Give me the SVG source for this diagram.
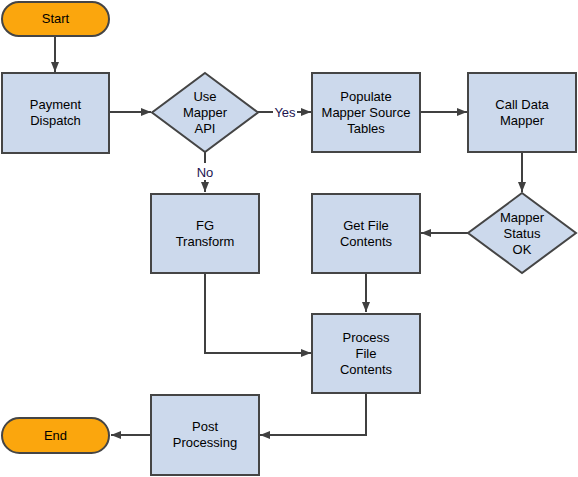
<svg xmlns="http://www.w3.org/2000/svg" width="578" height="477" viewBox="0 0 578 477">
<style>
.box{fill:#CCD9EC;stroke:#454545;stroke-width:2}
.term{fill:#FBA60D;stroke:#454545;stroke-width:2}
.t{font-family:"Liberation Sans",Arial,sans-serif;font-size:13px;fill:#000;text-anchor:middle}
.lbl{font-family:"Liberation Sans",Arial,sans-serif;font-size:13px;fill:#1C1450;text-anchor:middle}
.c{fill:none;stroke:#404040;stroke-width:2}
</style>
<defs>
<marker id="ah" viewBox="0 0 10 8" refX="10" refY="4" markerWidth="10" markerHeight="8" markerUnits="userSpaceOnUse" orient="auto">
<path d="M0,0 L10,4 L0,8 Z" fill="#404040"/>
</marker>
</defs>
<rect width="578" height="477" fill="#fff"/>
<g id="connectors">
<path class="c" d="M55,36 V72" marker-end="url(#ah)"/>
<path class="c" d="M110,112 H151" marker-end="url(#ah)"/>
<path class="c" d="M258,112 H273"/>
<path class="c" d="M297,112 H311" marker-end="url(#ah)"/>
<path class="c" d="M205,152 V163"/>
<path class="c" d="M205,180 V192" marker-end="url(#ah)"/>
<path class="c" d="M420,112 H467" marker-end="url(#ah)"/>
<path class="c" d="M522,153 V192" marker-end="url(#ah)"/>
<path class="c" d="M468,233 H421" marker-end="url(#ah)"/>
<path class="c" d="M366,273 V312" marker-end="url(#ah)"/>
<path class="c" d="M205,273 V353 H311" marker-end="url(#ah)"/>
<path class="c" d="M366,393 V435 H260" marker-end="url(#ah)"/>
<path class="c" d="M151,435 H111" marker-end="url(#ah)"/>
<text class="lbl" x="285" y="117">Yes</text>
<text class="lbl" x="205" y="177">No</text>
</g>
<g id="start">
<rect class="term" x="2" y="2" width="107" height="34" rx="17"/>
<text class="t" x="55.5" y="23">Start</text>
</g>
<g id="payment-dispatch">
<rect class="box" x="2" y="73" width="107" height="80"/>
<text class="t" x="55.5" y="109">Payment</text>
<text class="t" x="55.5" y="125">Dispatch</text>
</g>
<g id="use-mapper-api">
<polygon class="box" points="205,73 258,112.5 205,152 152,112.5"/>
<text class="t" x="205" y="101">Use</text>
<text class="t" x="205" y="117">Mapper</text>
<text class="t" x="205" y="133">API</text>
</g>
<g id="populate">
<rect class="box" x="312" y="73" width="108" height="79"/>
<text class="t" x="366" y="101">Populate</text>
<text class="t" x="366" y="117">Mapper Source</text>
<text class="t" x="366" y="133">Tables</text>
</g>
<g id="call-data-mapper">
<rect class="box" x="468" y="73" width="108" height="79"/>
<text class="t" x="522" y="109">Call Data</text>
<text class="t" x="522" y="125">Mapper</text>
</g>
<g id="mapper-status">
<polygon class="box" points="522,193 576,233 522,273 468,233"/>
<text class="t" x="522" y="222">Mapper</text>
<text class="t" x="522" y="238">Status</text>
<text class="t" x="522" y="254">OK</text>
</g>
<g id="get-file-contents">
<rect class="box" x="312" y="194" width="108" height="79"/>
<text class="t" x="366" y="230">Get File</text>
<text class="t" x="366" y="246">Contents</text>
</g>
<g id="fg-transform">
<rect class="box" x="151" y="194" width="108" height="79"/>
<text class="t" x="205" y="230">FG</text>
<text class="t" x="205" y="246">Transform</text>
</g>
<g id="process-file-contents">
<rect class="box" x="312" y="314" width="108" height="79"/>
<text class="t" x="366" y="342">Process</text>
<text class="t" x="366" y="358">File</text>
<text class="t" x="366" y="374">Contents</text>
</g>
<g id="post-processing">
<rect class="box" x="151" y="395" width="108" height="80"/>
<text class="t" x="205" y="431">Post</text>
<text class="t" x="205" y="447">Processing</text>
</g>
<g id="end">
<rect class="term" x="2" y="418" width="107" height="35" rx="17.5"/>
<text class="t" x="55.5" y="440">End</text>
</g>
</svg>
